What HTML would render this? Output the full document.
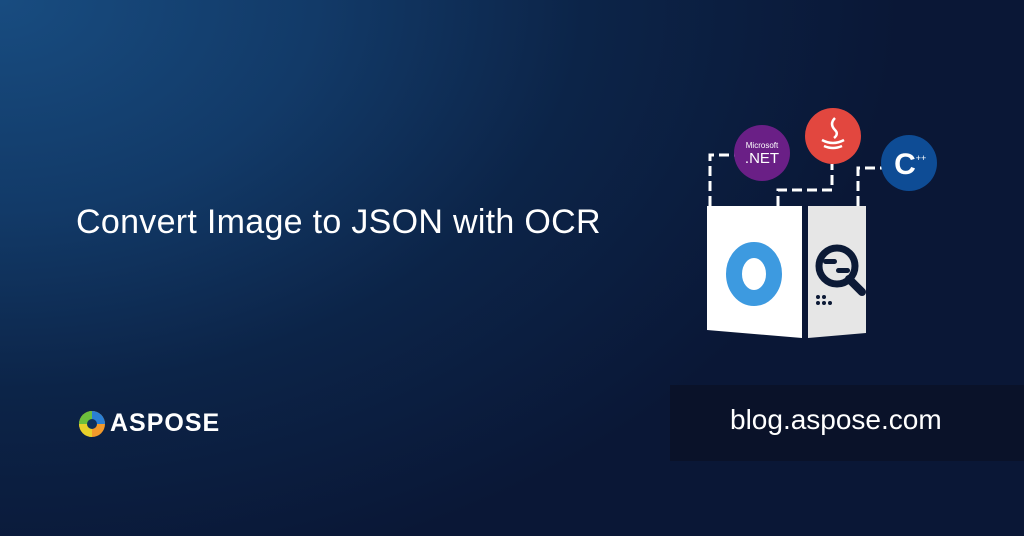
<!DOCTYPE html>
<html><head><meta charset="utf-8"><style>
html,body{margin:0;padding:0}
body{width:1024px;height:536px;overflow:hidden;position:relative;font-family:"Liberation Sans",sans-serif;
background:radial-gradient(ellipse 900px 600px at 0px 0px,#184c80 0%,#123a68 35%,#0c2448 65%,#0a1736 100%);}
.t{position:absolute;left:76px;top:203px;color:#fff;font-size:34px;letter-spacing:0.3px}
.blog{position:absolute;left:670px;top:385px;width:354px;height:76px;background:#0a1229}
.blog span{position:absolute;left:60px;top:19px;color:#fff;font-size:28px}
.logo{position:absolute;left:110px;top:409px;color:#fff;font-size:25px;font-weight:bold;letter-spacing:1px}
</style></head><body>
<div class="t">Convert Image to JSON with OCR</div>
<svg width="1024" height="536" style="position:absolute;left:0;top:0">
<g fill="none" stroke="#fff" stroke-width="3" stroke-dasharray="10,5">
<path d="M710 206 V155 H736"/>
<path d="M778 206 V190 H832 V164"/>
<path d="M858 206 V168 H882"/>
</g>
<polygon points="707,206 802,206 802,338 707,330" fill="#fff"/>
<polygon points="808,206 866,206 866,333 808,338" fill="#e6e6e6"/>
<ellipse cx="754" cy="274" rx="20" ry="24" fill="none" stroke="#3d9ae0" stroke-width="16"/>
<circle cx="837" cy="266" r="18" fill="none" stroke="#0c1a36" stroke-width="7"/>
<line x1="849" y1="279" x2="862" y2="292" stroke="#0c1a36" stroke-width="8" stroke-linecap="round"/>
<rect x="823" y="259" width="14" height="5" rx="2.5" fill="#0c1a36"/>
<rect x="836" y="268" width="14" height="5" rx="2.5" fill="#0c1a36"/>
<g fill="#0c1a36"><circle cx="818" cy="297" r="2"/><circle cx="824" cy="297" r="2"/><circle cx="818" cy="303" r="2"/><circle cx="824" cy="303" r="2"/><circle cx="830" cy="303" r="2"/></g>
<circle cx="762" cy="153" r="28" fill="#6a1f86"/>
<text x="762" y="148" fill="#fff" font-size="8" text-anchor="middle" font-family="Liberation Sans">Microsoft</text>
<text x="762" y="163" fill="#fff" font-size="15" text-anchor="middle" font-family="Liberation Sans">.NET</text>
<circle cx="833" cy="136" r="28" fill="#e2473f"/>
<path d="M822 140 q11 6 22 0 M824 146 q9 4 18 0 M835 118 q-6 6 0 12 q4 4 -1 8" fill="none" stroke="#fff" stroke-width="2.5"/>
<circle cx="909" cy="163" r="28" fill="#0e4c95"/>
<text x="905" y="174" fill="#fff" font-size="30" font-weight="bold" text-anchor="middle" font-family="Liberation Sans">C</text>
<text x="921" y="161" fill="#fff" font-size="9" text-anchor="middle" font-family="Liberation Sans">++</text>
<g transform="translate(92,424)">
<circle r="13" fill="#f39a2b"/>
<path d="M0 -13 A13 13 0 0 1 13 0 L0 0Z" fill="#2a7fd4"/>
<path d="M-13 0 A13 13 0 0 1 0 -13 L0 0Z" fill="#6cbf3c"/>
<path d="M0 13 A13 13 0 0 1 -13 0 L0 0Z" fill="#e7d02a"/>
<circle r="5" fill="#10305a"/>
</g>
</svg>
<div class="logo">ASPOSE</div>
<div class="blog"><span>blog.aspose.com</span></div>
</body></html>
